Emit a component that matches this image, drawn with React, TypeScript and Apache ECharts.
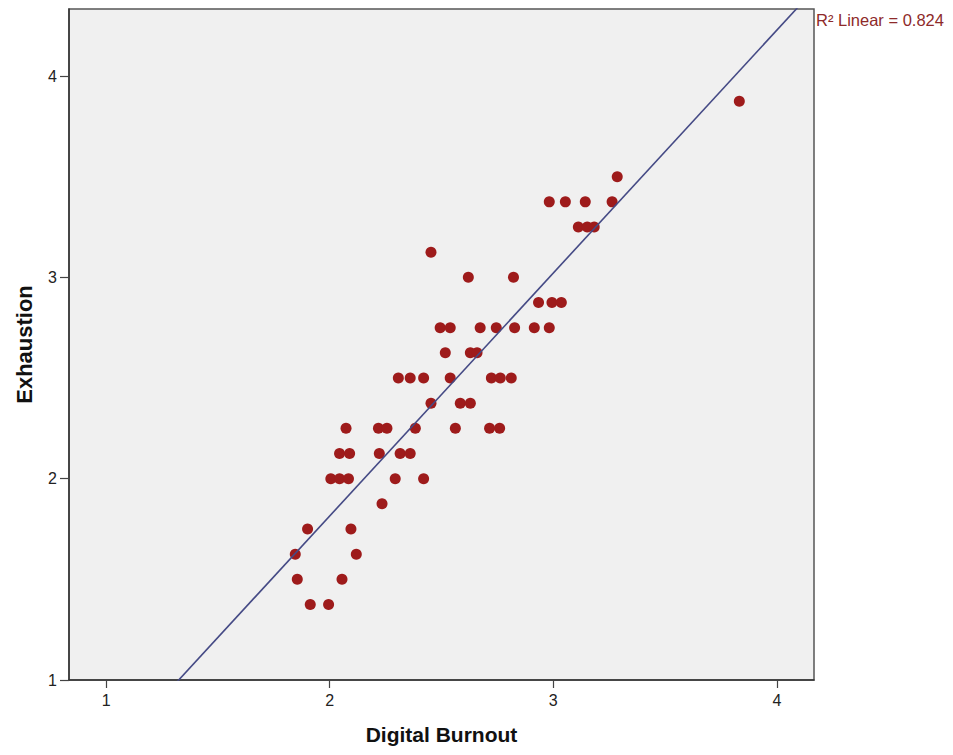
import React, { useEffect, useRef } from "react";
import * as echarts from "echarts";

// Digital Burnout (x) and Exhaustion (y)
const digitalBurnout = [
  1.913, 1.995,
  1.855, 2.055,
  1.846, 2.119,
  1.901, 2.095,
  2.234,
  2.005, 2.044, 2.084, 2.293, 2.42,
  2.044, 2.089, 2.222, 2.315, 2.36,
  2.073, 2.218, 2.256, 2.383, 2.562, 2.715, 2.76,
  2.453, 2.584, 2.629,
  2.307, 2.36, 2.42, 2.539, 2.723, 2.763, 2.812,
  2.517, 2.629, 2.659,
  2.494, 2.539, 2.673, 2.745, 2.827, 2.915, 2.982,
  2.934, 2.994, 3.036,
  2.62, 2.822,
  2.453,
  3.112, 3.152, 3.183,
  2.982, 3.054, 3.143, 3.263,
  3.286,
  3.832,
];
const exhaustion = [
  1.375, 1.375,
  1.5, 1.5,
  1.625, 1.625,
  1.75, 1.75,
  1.875,
  2, 2, 2, 2, 2,
  2.125, 2.125, 2.125, 2.125, 2.125,
  2.25, 2.25, 2.25, 2.25, 2.25, 2.25, 2.25,
  2.375, 2.375, 2.375,
  2.5, 2.5, 2.5, 2.5, 2.5, 2.5, 2.5,
  2.625, 2.625, 2.625,
  2.75, 2.75, 2.75, 2.75, 2.75, 2.75, 2.75,
  2.875, 2.875, 2.875,
  3, 3,
  3.125,
  3.25, 3.25, 3.25,
  3.375, 3.375, 3.375, 3.375,
  3.5,
  3.875,
];

const xTicks = [1, 2, 3, 4];
const yTicks = [1, 2, 3, 4];
const xRange = [0.834, 4.166];
const yRange = [1, 4.333];
const xTitle = "Digital Burnout";
const yTitle = "Exhaustion";
const r2Label = "R\u00B2 Linear = 0.824";

const FONT = "'Liberation Sans', Arial, Helvetica, sans-serif";

function linearFit(xs: number[], ys: number[]) {
  const n = xs.length;
  const mx = xs.reduce((a, b) => a + b, 0) / n;
  const my = ys.reduce((a, b) => a + b, 0) / n;
  let sxy = 0;
  let sxx = 0;
  for (let i = 0; i < n; i++) {
    sxy += (xs[i] - mx) * (ys[i] - my);
    sxx += (xs[i] - mx) * (xs[i] - mx);
  }
  const slope = sxy / sxx;
  return { slope, intercept: my - slope * mx };
}

export default function App() {
  const ref = useRef<HTMLDivElement>(null);

  useEffect(() => {
    if (!ref.current) return;
    const chart = echarts.init(ref.current, undefined, { renderer: "svg" });
    const points = digitalBurnout.map((x, i) => [x, exhaustion[i]]);
    const fit = linearFit(digitalBurnout, exhaustion);
    const fitLine = xRange.map((x) => [x, fit.intercept + fit.slope * x]);

    const axisCommon = {
      type: "value" as const,
      splitLine: { show: false },
      axisLine: { show: true, lineStyle: { color: "#333", width: 1.5 } },
    };

    chart.setOption({
      animation: false,
      backgroundColor: "#ffffff",
      textStyle: { fontFamily: FONT },
      grid: {
        left: 69,
        right: 139,
        top: 9,
        bottom: 75,
        show: true,
        backgroundColor: "#f0f0f0",
        borderColor: "#555",
        borderWidth: 1.5,
      },
      xAxis: {
        ...axisCommon,
        min: xRange[0],
        max: xRange[1],
        axisTick: {
          show: true,
          customValues: xTicks,
          length: 8,
          lineStyle: { color: "#444", width: 1.2 },
        },
        axisLabel: {
          customValues: xTicks,
          fontSize: 16,
          color: "#222",
          margin: 12,
          fontFamily: FONT,
        },
        name: xTitle,
        nameLocation: "middle",
        nameGap: 44,
        nameTextStyle: {
          fontSize: 21,
          fontWeight: "bold",
          color: "#111",
          fontFamily: FONT,
        },
      },
      yAxis: {
        ...axisCommon,
        min: yRange[0],
        max: yRange[1],
        axisTick: {
          show: true,
          customValues: yTicks,
          length: 9,
          lineStyle: { color: "#444", width: 1.2 },
        },
        axisLabel: {
          customValues: yTicks,
          fontSize: 16,
          color: "#222",
          margin: 12,
          fontFamily: FONT,
        },
        name: yTitle,
        nameLocation: "middle",
        nameGap: 34,
        nameTextStyle: {
          fontSize: 22,
          fontWeight: "bold",
          color: "#111",
          fontFamily: FONT,
        },
      },
      graphic: [
        {
          type: "text",
          left: 816,
          top: 11,
          style: {
            text: r2Label,
            fontSize: 16.5,
            fill: "#8e2a2a",
            fontFamily: FONT,
          },
        },
      ],
      series: [
        {
          type: "scatter",
          data: points,
          symbol: "circle",
          symbolSize: 11,
          itemStyle: { color: "#9e1b1b", opacity: 1 },
          z: 2,
        },
        {
          type: "line",
          data: fitLine,
          showSymbol: false,
          symbol: "none",
          clip: true,
          lineStyle: { color: "#454a85", width: 1.6 },
          z: 3,
        },
      ],
    });
    return () => chart.dispose();
  }, []);

  return (
    <div
      ref={ref}
      style={{ position: "fixed", left: 0, top: 0, width: 953, height: 755 }}
    />
  );
}
